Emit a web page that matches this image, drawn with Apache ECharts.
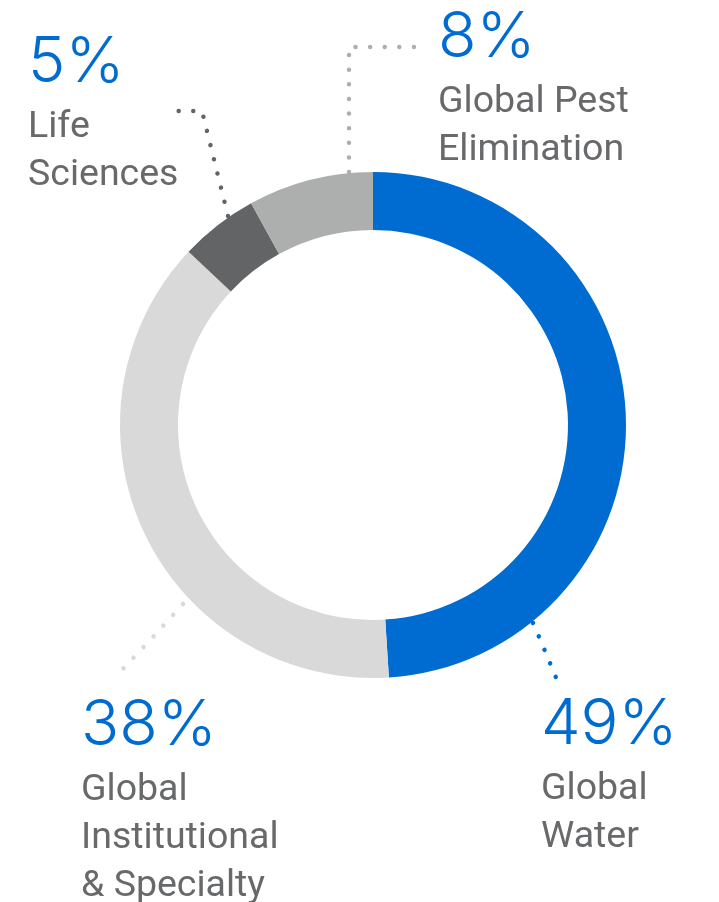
<!DOCTYPE html>
<html>
<head>
<meta charset="utf-8">
<script src="https://cdn.jsdelivr.net/npm/echarts@6/dist/echarts.min.js"></script>
<style>
  html, body { margin: 0; padding: 0; background: #ffffff; }
  #chart { width: 719px; height: 902px; }
</style>
</head>
<body>
<div id="chart"></div>
<script>
// ---- data ----
const categories = ['Global\nWater', 'Global\nInstitutional\n& Specialty', 'Life\nSciences', 'Global Pest\nElimination'];
const shares = [49, 38, 5, 8];
const sliceColors = ['#006bd1', '#d9d9d9', '#636466', '#adafae'];

// ---- layout (style only) ----
const labelAnchors = [[541, 684], [81, 685], [28, 22], [438, -3]];
const leaderPoints = [
  [[533, 623], [545, 651], [557, 680]],
  [[183, 604], [153, 637], [122, 670]],
  [[228, 216], [202, 111], [172, 111]],
  [[349, 172], [349, 47], [420, 47]]
];

const chart = echarts.init(document.getElementById('chart'), null, { renderer: 'canvas' });

const option = {
  backgroundColor: '#ffffff',
  animation: false,
  series: [{
    type: 'pie',
    center: [373, 425],
    radius: [195, 253],
    startAngle: 90,
    clockwise: true,
    avoidLabelOverlap: false,
    silent: true,
    data: categories.map((c, i) => ({
      name: c,
      value: shares[i],
      itemStyle: { color: sliceColors[i] },
      labelLine: { lineStyle: { color: sliceColors[i] } }
    })),
    label: {
      show: true,
      position: 'outside',
      formatter: function (p) {
        return '{p|' + p.value + '%}\n' + p.name.split('\n').map(s => '{n|' + s + '}').join('\n');
      },
      rich: {
        p: { fontFamily: 'Inter', fontWeight: 300, fontSize: 63, lineHeight: 82, color: '#006bd1' },
        n: { fontFamily: 'Roboto', fontWeight: 400, fontSize: 37.5, lineHeight: 48, color: '#68696b' }
      }
    },
    labelLine: {
      show: true,
      lineStyle: { width: 4.5, type: [0.01, 14.6], cap: 'round' }
    },
    labelLayout: function (params) {
      const i = params.dataIndex;
      return {
        x: labelAnchors[i][0],
        y: labelAnchors[i][1],
        align: 'left',
        verticalAlign: 'top',
        labelLinePoints: leaderPoints[i]
      };
    }
  }]
};

chart.setOption(option);
</script>
</body>
</html>
